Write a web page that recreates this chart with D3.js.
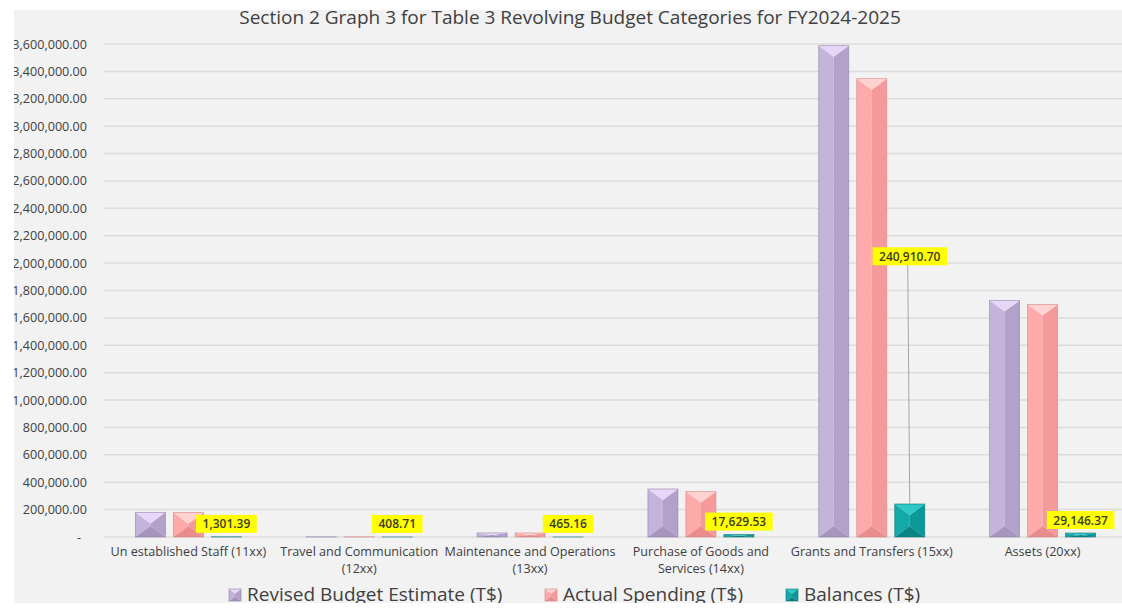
<!DOCTYPE html>
<html>
<head>
<meta charset="utf-8">
<script src="https://cdn.jsdelivr.net/npm/d3@7"></script>
<style>
  html, body { margin: 0; padding: 0; background: #ffffff; }
  svg { display: block; font-family: "Open Sans", sans-serif; }
</style>
</head>
<body>
<svg id="chart" width="1122" height="611"></svg>
<script>
// ---- data ----
const title = "Section 2 Graph 3 for Table 3 Revolving Budget Categories for FY2024-2025";
const categories = [
  "Un established Staff (11xx)",
  "Travel and Communication (12xx)",
  "Maintenance and Operations (13xx)",
  "Purchase of Goods and Services (14xx)",
  "Grants and Transfers (15xx)",
  "Assets (20xx)"
];
const seriesNames = ["Revised Budget Estimate (T$)", "Actual Spending (T$)", "Balances (T$)"];
const revisedBudget = [180000, 1500, 30000, 350500, 3588000, 1727000];
const actualSpending = [178700, 1091, 29535, 332870, 3347089, 1698000];
const balances = [1301.39, 408.71, 465.16, 17629.53, 240910.70, 29146.37];
const yTickValues = [0, 200000, 400000, 600000, 800000, 1000000, 1200000, 1400000, 1600000,
  1800000, 2000000, 2200000, 2400000, 2600000, 2800000, 3000000, 3200000, 3400000, 3600000];

// ---- styles ----
const palette = [
  { top: "#e8d6f8", left: "#c4b4dc", right: "#b2a2ca", bottom: "#a696be", stroke: "#8e80a6" },
  { top: "#ffd2d2", left: "#ffaaaa", right: "#f59a9a", bottom: "#e88c8c", stroke: "#d48080" },
  { top: "#2ec8c8", left: "#14a9a9", right: "#0b9898", bottom: "#088686", stroke: "#077070" }
];
const raisedLabelCategory = "Grants and Transfers (15xx)";
const raisedLabelValue = 2050000;

const svg = d3.select("#chart");
const W = 1122, H = 611;

svg.append("defs").append("clipPath").attr("id", "panel")
  .append("rect").attr("x", 14).attr("y", 10).attr("width", W - 14).attr("height", 593);

svg.append("rect").attr("width", W).attr("height", H).attr("fill", "#ffffff");
const g = svg.append("g").attr("clip-path", "url(#panel)");
g.append("rect").attr("x", 14).attr("y", 10).attr("width", W - 14).attr("height", 593).attr("fill", "#f2f2f2");

// scales
const y = d3.scaleLinear().domain([0, 3600000]).range([537, 44]);
const x0 = d3.scaleBand().domain(categories).range([103, 1128]).paddingInner(0).paddingOuter(0);
const groupW = 106;
const x1 = d3.scaleBand().domain(seriesNames)
  .range([(x0.bandwidth() - groupW) / 2, (x0.bandwidth() + groupW) / 2])
  .paddingInner(8 / 38).paddingOuter(0);

// gridlines
g.append("g").selectAll("line").data(yTickValues).join("line")
  .attr("x1", 104).attr("x2", W)
  .attr("y1", d => y(d)).attr("y2", d => y(d))
  .attr("stroke", "#dcdcdc").attr("stroke-width", 1.5);

// y axis labels
const fmt = d3.format(",.2f");
const yAxis = d3.axisLeft(y).tickValues(yTickValues).tickSize(0).tickPadding(0)
  .tickFormat(d => d === 0 ? "-" : fmt(d));
const yg = g.append("g").attr("transform", "translate(87,0)").call(yAxis);
yg.select(".domain").remove();
yg.selectAll("text").attr("font-family", "'Open Sans', sans-serif").attr("font-size", 12.6)
  .attr("fill", "#404040")
  .attr("dx", d => d === 0 ? -6 : 0);

// title
g.append("text").attr("x", 570).attr("y", 24).attr("text-anchor", "middle")
  .attr("font-size", 19).attr("fill", "#404040").text(title);

// bevel bar drawing
function bevel(sel, x, yTop, w, h, c) {
  if (h <= 0) return;
  const x0b = x, x1b = x + w, xm = x + w / 2, y0 = yTop, y1 = yTop + h;
  const d = Math.min(w * 0.37, h / 2);
  const pts = {
    left: [[x0b, y0], [xm, y0 + d], [xm, y1 - d], [x0b, y1]],
    right: [[x1b, y0], [xm, y0 + d], [xm, y1 - d], [x1b, y1]],
    top: [[x0b, y0], [x1b, y0], [xm, y0 + d]],
    bottom: [[x0b, y1], [x1b, y1], [xm, y1 - d]]
  };
  ["left", "right", "top", "bottom"].forEach(k => {
    sel.append("polygon").attr("points", pts[k].map(p => p.join(",")).join(" "))
      .attr("fill", c[k]);
  });
  sel.append("rect").attr("x", x).attr("y", yTop).attr("width", w).attr("height", h)
    .attr("fill", "none").attr("stroke", c.stroke).attr("stroke-width", 0.8).attr("stroke-opacity", 0.7);
}

const seriesValues = [revisedBudget, actualSpending, balances];
const barsG = g.append("g");
categories.forEach((cat, i) => {
  seriesNames.forEach((s, j) => {
    const v = seriesValues[j][i];
    const bx = x0(cat) + x1(s);
    const top = y(v);
    bevel(barsG.append("g"), bx, top, x1.bandwidth(), y(0) - top, palette[j]);
  });
});

// data labels for balances
const labG = g.append("g");
categories.forEach((cat, i) => {
  const v = balances[i];
  const cx = x0(cat) + x1(seriesNames[2]) + x1.bandwidth() / 2;
  const barTop = y(v);
  let cy;
  const raised = cat === raisedLabelCategory;
  if (raised) cy = y(raisedLabelValue);
  else cy = Math.min(barTop, 537) - 4 - 9;
  const lg = labG.append("g");
  const box = lg.append("rect").attr("fill", "#ffff00");
  const t = lg.append("text").attr("x", cx).attr("y", cy + 4.5).attr("text-anchor", "middle")
    .attr("font-size", 12).attr("font-weight", 600).attr("fill", "#3c3c28").text(fmt(v));
  const tw = t.node().getComputedTextLength();
  const bw = tw + 13, bh = 18;
  box.attr("x", cx - bw / 2).attr("y", cy - bh / 2).attr("width", bw).attr("height", bh);
  if (raised) {
    labG.insert("line", ":first-child").attr("x1", cx - 2).attr("x2", cx)
      .attr("y1", cy + bh / 2).attr("y2", barTop)
      .attr("stroke", "#a6a6a6").attr("stroke-width", 1);
  }
});

// x category labels with wrapping
const xLabG = g.append("g");
const xFont = 12.6;
categories.forEach(cat => {
  const cx = x0(cat) + x0.bandwidth() / 2;
  const t = xLabG.append("text").attr("text-anchor", "middle").attr("font-size", xFont)
    .attr("fill", "#404040");
  const words = cat.split(" ");
  let lines = [], line = [];
  const probe = xLabG.append("text").attr("font-size", xFont);
  words.forEach(w => {
    const trial = line.concat([w]).join(" ");
    probe.text(trial);
    if (probe.node().getComputedTextLength() > 186 && line.length) {
      lines.push(line.join(" "));
      line = [w];
    } else line.push(w);
  });
  lines.push(line.join(" "));
  probe.remove();
  lines.forEach((ln, k) => {
    t.append("tspan").attr("x", cx).attr("y", 556 + k * 16.5).text(ln);
  });
});

// legend
const legendX = [229, 545, 786];
const legG = g.append("g");
seriesNames.forEach((s, j) => {
  bevel(legG.append("g"), legendX[j], 589, 12, 12, palette[j]);
  legG.append("text").attr("x", legendX[j] + 18).attr("y", 601)
    .attr("font-size", 19).attr("fill", "#404040").text(s);
});
</script>
</body>
</html>
